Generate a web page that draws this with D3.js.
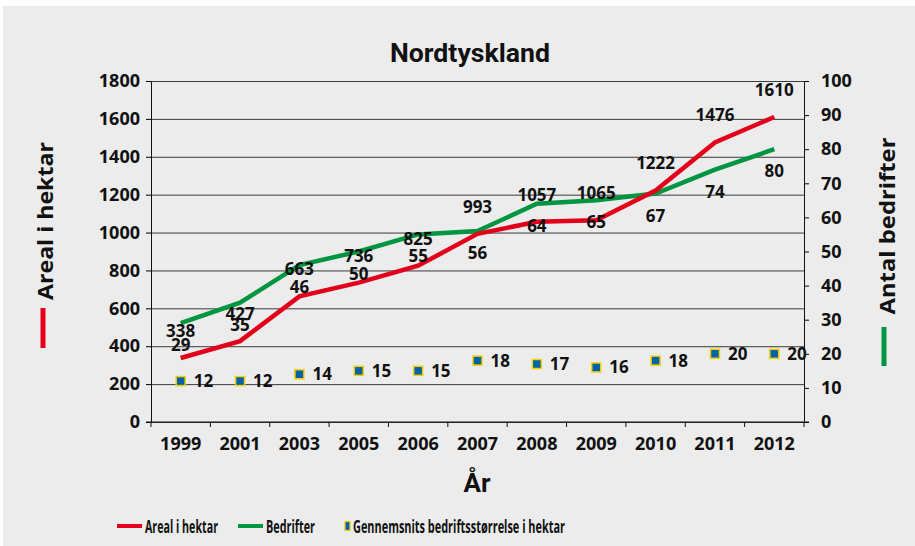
<!DOCTYPE html>
<html>
<head>
<meta charset="utf-8">
<script src="https://cdn.jsdelivr.net/npm/d3@7"></script>
<style>
  body { margin: 0; background: #ffffff; }
  svg text { font-family: "Open Sans", "DejaVu Sans", sans-serif; font-weight: bold; fill: #111; }
  .narrow { font-family: "Liberation Sans Narrow", "Roboto", sans-serif; }
</style>
</head>
<body>
<svg id="chart" width="915" height="546"></svg>
<script>
const years = ["1999", "2001", "2003", "2005", "2006", "2007", "2008", "2009", "2010", "2011", "2012"];
const areal = [338, 427, 663, 736, 825, 993, 1057, 1065, 1222, 1476, 1610];
const bedrifter = [29, 35, 46, 50, 55, 56, 64, 65, 67, 74, 80];
const gennemsnit = [12, 12, 14, 15, 15, 18, 17, 16, 18, 20, 20];
const leftTicks = [0, 200, 400, 600, 800, 1000, 1200, 1400, 1600, 1800];
const rightTicks = [0, 10, 20, 30, 40, 50, 60, 70, 80, 90, 100];

const red = "#e3001b";
const green = "#009540";

const svg = d3.select("svg#chart");
const margin = { top: 81, right: 111, bottom: 124, left: 151 };
const chartWidth = 915 - margin.left - margin.right;
const chartHeight = 546 - margin.top - margin.bottom;

svg.append("rect")
  .attr("x", 3).attr("y", 6)
  .attr("width", 912).attr("height", 540)
  .attr("fill", "#ebeceb");

const g = svg.append("g").attr("transform", `translate(${margin.left},${margin.top})`);

const x = d3.scaleBand(years, [0, chartWidth]);
const cx = (d) => x(d) + x.bandwidth() / 2;
const yL = d3.scaleLinear([0, 1800], [chartHeight, 0]);
const yR = d3.scaleLinear([0, 100], [chartHeight, 0]);

// gridlines
g.append("g")
  .call(d3.axisLeft(yL).tickValues(leftTicks).tickSize(-chartWidth).tickFormat(""))
  .call((a) => a.select(".domain").remove())
  .selectAll("line").attr("stroke", "#3a3a3a");

// left axis
g.append("g")
  .call(d3.axisLeft(yL).tickValues(leftTicks).tickFormat(d3.format("d")).tickSize(5).tickSizeOuter(0).tickPadding(6))
  .call((a) => a.selectAll("text").style("font-size", "18px"))
  .call((a) => a.select(".domain").attr("stroke", "#111"));

// right axis
g.append("g")
  .attr("transform", `translate(${chartWidth},0)`)
  .call(d3.axisRight(yR).tickValues(rightTicks).tickFormat(d3.format("d")).tickSize(5).tickSizeOuter(0).tickPadding(12))
  .call((a) => a.selectAll("text").style("font-size", "18px"))
  .call((a) => a.select(".domain").attr("stroke", "#111"));

// bottom axis: ticks at band boundaries
const xAxis = g.append("g").attr("transform", `translate(0,${chartHeight})`);
xAxis.append("line").attr("x1", -5).attr("x2", chartWidth + 5).attr("stroke", "#111");
xAxis.selectAll("line.tick")
  .data(d3.range(years.length + 1))
  .join("line")
  .attr("class", "tick")
  .attr("x1", (i) => i * x.step()).attr("x2", (i) => i * x.step())
  .attr("y1", 0).attr("y2", 5)
  .attr("stroke", "#111");
xAxis.selectAll("text")
  .data(years)
  .join("text")
  .attr("x", cx)
  .attr("y", 28)
  .attr("text-anchor", "middle")
  .style("font-size", "18px")
  .text((d) => d);

// lines
const areaLine = d3.line().x((d, i) => cx(years[i])).y((d) => yL(d));
const firmLine = d3.line().x((d, i) => cx(years[i])).y((d) => yR(d));

g.append("path").attr("d", firmLine(bedrifter))
  .attr("fill", "none").attr("stroke", green).attr("stroke-width", 4.5);
g.append("path").attr("d", areaLine(areal))
  .attr("fill", "none").attr("stroke", red).attr("stroke-width", 4.5);

// squares
g.selectAll("rect.avg")
  .data(gennemsnit)
  .join("rect")
  .attr("class", "avg")
  .attr("x", (d, i) => cx(years[i]) - 4.5)
  .attr("y", (d) => yR(d) - 4.5)
  .attr("width", 9).attr("height", 9)
  .attr("fill", "#0063a9")
  .attr("stroke", "#f5d000")
  .attr("stroke-width", 1.5);

// labels
g.selectAll("text.avgl")
  .data(gennemsnit)
  .join("text")
  .attr("class", "avgl")
  .attr("x", (d, i) => cx(years[i]) + 13)
  .attr("y", (d) => yR(d) + 6)
  .style("font-size", "17px")
  .text((d) => d);

g.selectAll("text.areal")
  .data(areal)
  .join("text")
  .attr("class", "areal")
  .attr("x", (d, i) => cx(years[i]))
  .attr("y", (d) => yL(d) - 21)
  .attr("text-anchor", "middle")
  .style("font-size", "17px")
  .text((d) => d);

g.selectAll("text.firm")
  .data(bedrifter)
  .join("text")
  .attr("class", "firm")
  .attr("x", (d, i) => cx(years[i]))
  .attr("y", (d) => yR(d) + 28)
  .attr("text-anchor", "middle")
  .style("font-size", "17px")
  .text((d) => d);

// title
svg.append("text")
  .attr("class", "narrow")
  .attr("x", 470).attr("y", 62)
  .attr("text-anchor", "middle")
  .attr("textLength", 160).attr("lengthAdjust", "spacingAndGlyphs")
  .style("font-size", "25px")
  .text("Nordtyskland");

// x title
svg.append("text")
  .attr("class", "narrow")
  .attr("x", 477).attr("y", 492)
  .attr("text-anchor", "middle")
  .style("font-size", "26px")
  .text("År");

// left title
svg.append("text")
  .attr("transform", "translate(53,221) rotate(-90)")
  .attr("text-anchor", "middle")
  .attr("textLength", 158).attr("lengthAdjust", "spacingAndGlyphs")
  .style("font-size", "22px")
  .text("Areal i hektar");
svg.append("line")
  .attr("x1", 43).attr("x2", 43).attr("y1", 308).attr("y2", 348)
  .attr("stroke", red).attr("stroke-width", 5);

// right title
svg.append("text")
  .attr("transform", "translate(895,226) rotate(-90)")
  .attr("text-anchor", "middle")
  .attr("textLength", 177).attr("lengthAdjust", "spacingAndGlyphs")
  .style("font-size", "22px")
  .text("Antal bedrifter");
svg.append("line")
  .attr("x1", 884).attr("x2", 884).attr("y1", 327).attr("y2", 366)
  .attr("stroke", green).attr("stroke-width", 5);

// legend
const legend = svg.append("g").attr("transform", "translate(0,526)");
const legendItems = [
  { label: "Areal i hektar", color: red, type: "line", x: 117, w: 73 },
  { label: "Bedrifter", color: green, type: "line", x: 238, w: 49 },
  { label: "Gennemsnits bedriftsstørrelse i hektar", type: "square", x: 345, w: 212 }
];
legendItems.forEach((d) => {
  if (d.type === "line") {
    legend.append("line")
      .attr("x1", d.x).attr("x2", d.x + 25).attr("y1", 0).attr("y2", 0)
      .attr("stroke", d.color).attr("stroke-width", 4);
    legend.append("text")
      .attr("x", d.x + 28).attr("y", 7)
      .attr("textLength", d.w).attr("lengthAdjust", "spacingAndGlyphs")
      .style("font-size", "17px").text(d.label);
  } else {
    legend.append("rect")
      .attr("x", d.x).attr("y", -4.5).attr("width", 5).attr("height", 9)
      .attr("fill", "#0063a9").attr("stroke", "#f5d000").attr("stroke-width", 1.2);
    legend.append("text")
      .attr("x", d.x + 8).attr("y", 7)
      .attr("textLength", d.w).attr("lengthAdjust", "spacingAndGlyphs")
      .style("font-size", "17px").text(d.label);
  }
});
</script>
</body>
</html>
